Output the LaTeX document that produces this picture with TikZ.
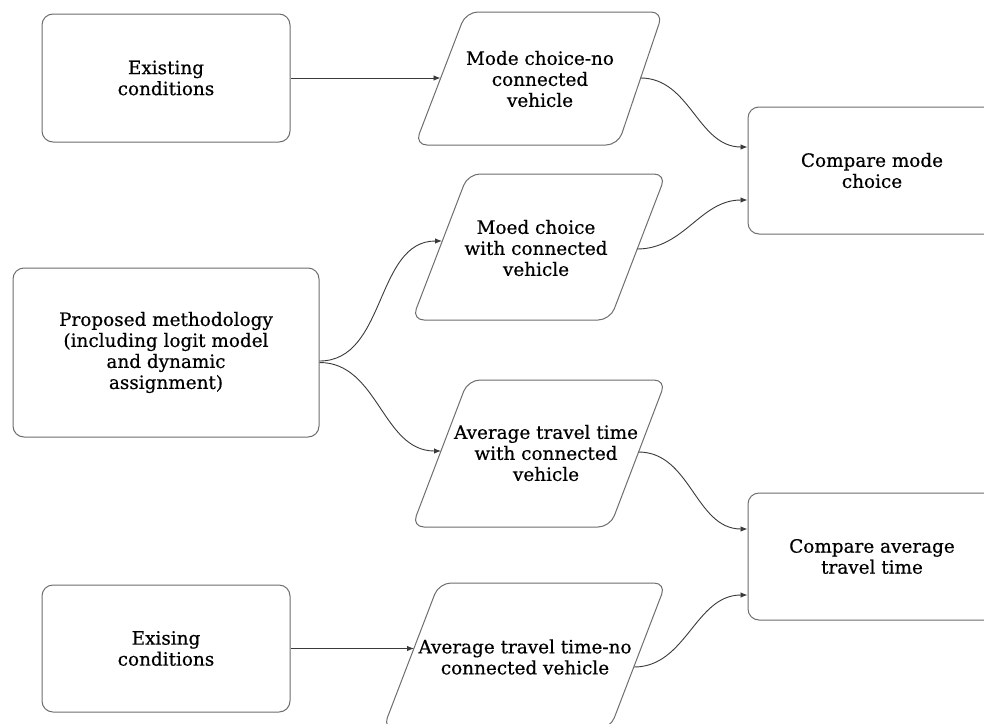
\documentclass[tikz,border=0pt]{standalone}
\usepackage{fontspec}
\setmainfont{DejaVu Serif}
\newfontfamily\labelfam{DejaVu Serif}[BoldFont={DejaVu Serif}, BoldFeatures={FakeBold=0.5}]
\usetikzlibrary{arrows.meta}
\definecolor{edgegray}{HTML}{6E6E6E}
\definecolor{arrowgray}{HTML}{3A3A3A}
\newcommand{\labelfont}{\labelfam\bfseries\fontsize{18.4}{21}\selectfont}
\tikzset{
  boxnode/.style={draw=edgegray, line width=1pt, rounded corners=11pt, align=center,
    font=\labelfont, inner sep=0pt, minimum width=248pt, minimum height=128pt},
  paraline/.style={draw=edgegray, line width=1pt, rounded corners=12pt},
  paratext/.style={align=center, font=\labelfont, inner sep=0pt},
  link/.style={draw=arrowgray, line width=0.9pt, -{Latex[length=7pt,width=5.5pt]}},
  curvy/.style={link, out=0, in=180}
}
\begin{document}
\begin{tikzpicture}[x=1pt,y=-1pt]
\useasboundingbox (0,0) rectangle (984,723);
\fill[white] (0,0) rectangle (984,723);
\clip (0,0) rectangle (984,723);

% rectangles
\node[boxnode] (ex1) at (166,78) {Existing\\conditions};
\node[boxnode, minimum width=306pt, minimum height=169pt] (prop) at (166,352.5)
  {Proposed methodology\\(including logit model\\and dynamic\\assignment)};
\node[boxnode, minimum height=127pt] (ex2) at (166,648.5) {Exising\\conditions};
\node[boxnode, minimum height=127pt] (cmp1) at (872,170.5) {Compare mode\\choice};
\node[boxnode, minimum height=127pt] (cmp2) at (872,556.5) {Compare average\\travel time};

% parallelograms
\draw[paraline] (466,12) -- (663,12) -- (618,145) -- (415,145) -- cycle;
\draw[paraline] (468,174) -- (666,174) -- (610,320) -- (412,320) -- cycle;
\draw[paraline] (468,380) -- (666,380) -- (610,527) -- (412,527) -- cycle;
\draw[paraline] (439,583) -- (666,583) -- (610,729) -- (383,729) -- cycle;

\node[paratext] (mc1) at (540,79) {Mode choice-no\\connected\\vehicle};
\node[paratext] (mc2) at (536,248) {Moed choice\\with connected\\vehicle};
\node[paratext] (tt1) at (546,453) {Average travel time\\with connected\\vehicle};
\node[paratext] (tt2) at (525,657) {Average travel time-no\\connected vehicle};

\coordinate (mc1w) at (440.5,78);
\coordinate (mc1e) at (640.5,78);
\coordinate (mc2w) at (442,241);
\coordinate (mc2e) at (637,249);
\coordinate (tt1w) at (441,451);
\coordinate (tt1e) at (638.5,452);
\coordinate (tt2w) at (414,648.5);
\coordinate (tt2e) at (634,667);

% connectors
\draw[link] (ex1.east) -- (mc1w);
\draw[link] (ex2.east) -- (tt2w);
\draw[curvy] (mc1e) to ([yshift=23.5pt]cmp1.west);
\draw[curvy] (mc2e) to ([yshift=-29.5pt]cmp1.west);
\draw[curvy] ([yshift=-8.5pt]prop.east) to (mc2w);
\draw[curvy] ([yshift=-10pt]prop.east) to (tt1w);
\draw[curvy] (tt1e) to ([yshift=27.5pt]cmp2.west);
\draw[curvy] (tt2e) to ([yshift=-38.5pt]cmp2.west);
\end{tikzpicture}
\end{document}
